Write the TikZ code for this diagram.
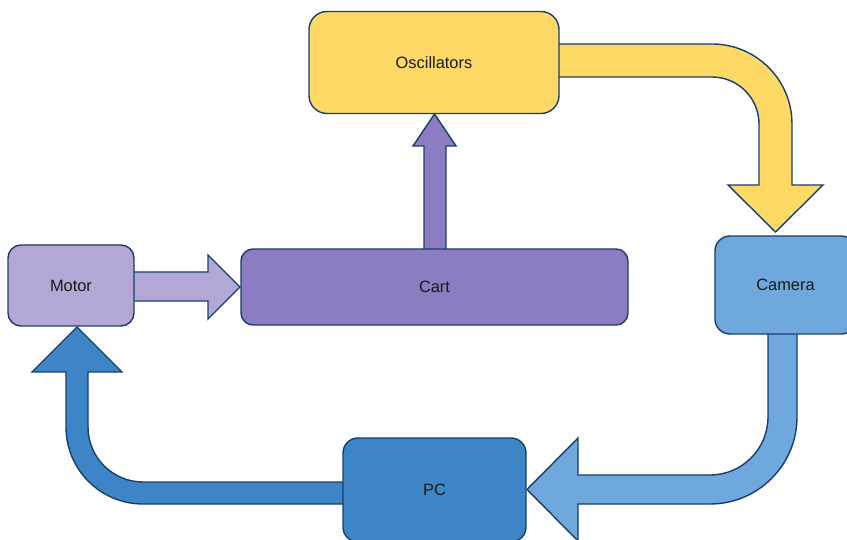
\documentclass[tikz,border=0pt]{standalone}
\usepackage{fontspec}
\setmainfont{Liberation Sans}
\definecolor{edge}{HTML}{173F6B}
\definecolor{oscfill}{HTML}{FFD966}
\definecolor{motorfill}{HTML}{B4A7D6}
\definecolor{cartfill}{HTML}{8E7CC3}
\definecolor{camfill}{HTML}{6FA8DC}
\definecolor{pcfill}{HTML}{3D85C6}
\tikzset{
  box/.style={draw=edge, line width=1.4pt, rounded corners=#1, inner sep=0pt, outer sep=0pt,
    font=\fontsize{16.4}{19}\selectfont, text=black!90},
  box/.default=14pt,
  blockarrow/.style={draw=edge, line width=1.4pt, line join=miter}
}
\begin{document}
\begin{tikzpicture}[x=1pt,y=-1pt]
\useasboundingbox (0,0) rectangle (847,540);
\clip (0,0) rectangle (847,540);
\fill[white] (0,0) rectangle (847,540);

% block arrows (drawn first so the boxes cover their ends)
% Oscillators -> Camera
\draw[blockarrow, fill=oscfill]
  (556,44) -- (712,44) arc[start angle=270, end angle=360, radius=80]
  -- (792,185) -- (823,185) -- (775.5,232) -- (728,185) -- (759,185)
  -- (759,124) arc[start angle=0, end angle=-90, radius=47]
  -- (556,77) -- cycle;
% Camera -> PC
\draw[blockarrow, fill=camfill]
  (768,331) -- (797,331) -- (797,417) arc[start angle=0, end angle=90, radius=87]
  -- (578,504) -- (578,541) -- (527,489.5) -- (578,438) -- (578,475)
  -- (710,475) arc[start angle=90, end angle=0, radius=58]
  -- (768,331) -- cycle;
% PC -> Motor
\draw[blockarrow, fill=pcfill]
  (346,482) -- (143,482) arc[start angle=90, end angle=180, radius=55]
  -- (88,372) -- (122,372) -- (77,327) -- (32,372) -- (66,372)
  -- (66,427) arc[start angle=180, end angle=90, radius=77]
  -- (346,504) -- cycle;
% Motor -> Cart
\draw[blockarrow, fill=motorfill]
  (131,272) -- (208,272) -- (208,255) -- (240,287) -- (208,319) -- (208,301)
  -- (131,301) -- cycle;
% Cart -> Oscillators
\draw[blockarrow, fill=cartfill]
  (424,252) -- (424,146) -- (413,146) -- (434.5,114) -- (456,146) -- (446,146)
  -- (446,252) -- cycle;

% boxes
\node[box=18pt, fill=oscfill, minimum width=250pt, minimum height=102pt] (osc) at (434,62.5) {Oscillators};
\node[box=13pt, fill=motorfill, minimum width=126pt, minimum height=81pt] (motor) at (71,285.5) {Motor};
\node[box=12pt, fill=cartfill, minimum width=387pt, minimum height=76pt] (cart) at (434.5,287) {Cart};
\node[box=15pt, fill=camfill, minimum width=141pt, minimum height=98pt] (camera) at (785.5,285) {Camera};
\node[box=15pt, fill=pcfill, minimum width=183pt, minimum height=104pt] (pc) at (434.5,490) {PC};
\end{tikzpicture}
\end{document}
